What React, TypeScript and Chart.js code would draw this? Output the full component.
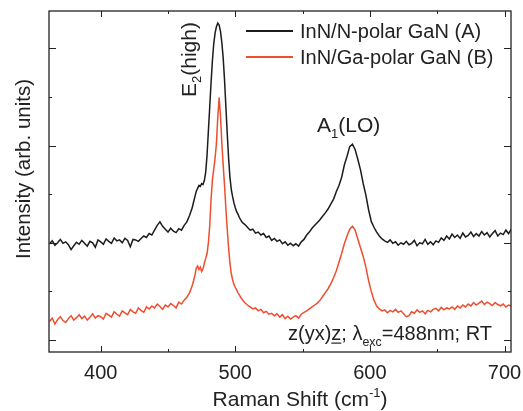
import { useEffect, useRef } from "react";
import { Chart, registerables } from "chart.js";

Chart.register(...registerables);

// Raman shift (cm^-1)
const ramanShift = [
  362, 364, 366, 368, 370, 372, 374, 376, 378, 380,
  382, 384, 386, 388, 390, 392, 394, 396, 398, 400,
  402, 404, 406, 408, 410, 412, 414, 416, 418, 420,
  422, 424, 426, 428, 430, 432, 434, 436, 438, 440,
  442, 444, 446, 448, 450, 452, 454, 456, 458, 460,
  462, 464, 466, 468,
  469, 470, 471, 472, 473, 474, 475, 476, 477, 478,
  479, 480, 481, 482, 483, 484, 485, 486, 487, 488,
  489, 490, 491, 492, 493, 494, 495, 496, 497, 498,
  499, 500, 501, 502, 503, 504, 505, 506, 507,
  509, 511, 513, 515, 517, 519, 521, 523, 525, 527,
  529, 531, 533, 535, 537, 539, 541, 543, 545, 547,
  549, 551, 553, 555, 557, 559, 561, 563, 565, 567,
  569, 571, 573, 575, 577, 579, 581, 583, 585, 587,
  589, 591, 593, 595, 597, 599, 601, 603, 605, 607,
  609, 611, 613, 615, 617, 619, 621, 623, 625, 627,
  629, 631, 633, 635, 637, 639, 641, 643, 645, 647,
  649, 651, 653, 655, 657, 659, 661, 663, 665, 667,
  669, 671, 673, 675, 677, 679, 681, 683, 685, 687,
  689, 691, 693, 695, 697, 699, 701, 703, 705,
];

// InN/N-polar GaN (A)
const intensityA = [
  198, 204, 195, 200, 207, 199, 202, 196, 186, 194,
  201, 197, 205, 199, 193, 203, 200, 191, 206, 202,
  197, 208, 203, 199, 210, 204, 206, 200, 209, 205,
  192, 207, 206, 203, 209, 214, 211, 219, 216, 226,
  236, 243, 234, 228, 222, 230, 224, 221, 229, 226,
  236, 243, 256, 272,
  284, 295, 306, 312, 318, 316, 322, 320, 328, 345,
  380, 430, 480, 530, 575, 610, 632, 645, 652, 648,
  635, 612, 580, 535, 480, 425, 375, 335, 310, 295,
  282, 272, 264, 259, 252, 247, 243, 240, 238,
  232, 226, 228, 220, 222, 216, 219, 211, 214, 205,
  209, 203, 206, 198, 202, 195, 199, 194, 198, 193,
  202, 207, 216, 222, 230, 236, 242, 248, 255, 262,
  270, 280, 290, 305, 318, 335, 360, 378, 398, 403,
  392, 372, 350, 322, 298, 268, 244, 232, 222, 214,
  208, 204, 201, 206, 199, 202, 195, 200, 197, 203,
  196, 199, 205, 194, 200, 198, 207, 197, 202, 196,
  204, 201, 210, 205, 214, 208, 218, 211, 216, 209,
  220, 212, 215, 222, 213, 219, 214, 223, 216, 221,
  212, 219, 225, 214, 220, 217, 226, 219, 228,
];

// InN/Ga-polar GaN (B)
const intensityB = [
  38, 45, 33, 42, 48, 40, 36, 44, 50, 41,
  46, 52, 44, 49, 41, 47, 54, 45, 50, 48,
  43, 55, 51, 47, 58, 53, 49, 60, 56, 52,
  63, 58, 55, 66, 61, 57, 68, 64, 70, 66,
  74, 69, 63, 72, 68, 75, 71, 66, 78, 74,
  82, 88, 97, 112,
  122, 133, 148, 152, 145, 150, 141, 146, 158, 168,
  178, 200, 235, 290, 330, 352, 375, 405, 460, 499,
  460, 405, 360, 318, 270, 228, 190, 158, 137, 124,
  114, 108, 103, 97, 93, 88, 84, 80, 77,
  72, 68, 64, 66, 60, 63, 56, 59, 53, 55,
  50, 54, 47, 52, 44, 49, 43, 47, 50, 45,
  53, 57, 60, 64, 68, 72, 76, 82, 90, 98,
  106, 116, 128, 142, 160, 178, 198, 214, 228, 234,
  226, 208, 190, 172, 150, 122, 100, 82, 70, 64,
  60, 62, 56, 61, 58, 63, 57, 60, 54, 48,
  50, 58, 55, 62, 57, 60, 54, 61, 58, 63,
  65, 60, 67, 62, 66, 64, 68, 63, 70, 66,
  72, 68, 74, 70, 77, 72, 76, 80, 73, 78,
  75, 71, 77, 73, 70, 74, 68, 72, 70,
];

const xTickLabels = [400, 500, 600, 700];
const seriesLabels = ["InN/N-polar GaN (A)", "InN/Ga-polar GaN (B)"];
const seriesColors = ["#1c1c1c", "#ee4e2e"];

const FONT = "'Liberation Sans', Arial, Helvetica, sans-serif";
const TEXT = "#222222";

type Part = { t: string; sub?: boolean; sup?: boolean; u?: boolean };

function drawRich(
  ctx: CanvasRenderingContext2D,
  parts: Part[],
  x: number,
  y: number,
  size: number,
  align: "left" | "center",
  rotate = false
) {
  ctx.save();
  ctx.translate(x, y);
  if (rotate) ctx.rotate(-Math.PI / 2);
  ctx.fillStyle = TEXT;
  ctx.textBaseline = "alphabetic";
  ctx.textAlign = "left";
  let w = 0;
  for (const p of parts) {
    const fs = p.sub || p.sup ? size * 0.62 : size;
    ctx.font = `${fs}px ${FONT}`;
    w += ctx.measureText(p.t).width;
  }
  let cx = align === "center" ? -w / 2 : 0;
  for (const p of parts) {
    const fs = p.sub || p.sup ? size * 0.62 : size;
    ctx.font = `${fs}px ${FONT}`;
    const dy = p.sub ? size * 0.28 : p.sup ? -size * 0.45 : 0;
    ctx.fillText(p.t, cx, dy);
    const pw = ctx.measureText(p.t).width;
    if (p.u) ctx.fillRect(cx, dy + 2.5, pw, 1.2);
    cx += pw;
  }
  ctx.restore();
}

const decorPlugin = {
  id: "decor",
  afterDatasetsDraw(chart: any) {
    const { ctx, chartArea: a, scales } = chart;
    const x = scales.x;
    const y = scales.y;
    ctx.save();
    ctx.strokeStyle = "#222222";
    ctx.lineWidth = 1.3;
    ctx.strokeRect(a.left, a.top, a.right - a.left, a.bottom - a.top);
    ctx.lineWidth = 1;
    ctx.beginPath();
    for (let v = 400; v <= 700; v += 50) {
      const px = Math.round(x.getPixelForValue(v)) + 0.5;
      const len = v % 100 === 0 ? 6 : 3;
      ctx.moveTo(px, a.bottom);
      ctx.lineTo(px, a.bottom - len);
      ctx.moveTo(px, a.top);
      ctx.lineTo(px, a.top + len);
    }
    for (let v = 0; v <= 600; v += 100) {
      const py = Math.round(y.getPixelForValue(v)) + 0.5;
      const len = v % 200 === 0 ? 7 : 3;
      ctx.moveTo(a.left, py);
      ctx.lineTo(a.left + len, py);
      ctx.moveTo(a.right, py);
      ctx.lineTo(a.right - len, py);
    }
    ctx.stroke();

    // legend
    const legendY = [31, 57];
    seriesLabels.forEach((label, i) => {
      ctx.strokeStyle = seriesColors[i];
      ctx.lineWidth = 1.8;
      ctx.beginPath();
      ctx.moveTo(246, legendY[i]);
      ctx.lineTo(293, legendY[i]);
      ctx.stroke();
      drawRich(ctx, [{ t: label }], 300, legendY[i] + 6.8, 20, "left");
    });

    // annotations
    drawRich(ctx, [{ t: "E" }, { t: "2", sub: true }, { t: "(high)" }], 195.5, 97, 21, "left", true);
    drawRich(ctx, [{ t: "A" }, { t: "1", sub: true }, { t: "(LO)" }], 317, 132, 21, "left");
    drawRich(
      ctx,
      [
        { t: "z(yx)" },
        { t: "z", u: true },
        { t: "; λ" },
        { t: "exc", sub: true },
        { t: "=488nm; RT" },
      ],
      288,
      340,
      20,
      "left"
    );

    // axis titles
    drawRich(ctx, [{ t: "Intensity (arb. units)" }], 29.5, 169, 20.5, "center", true);
    drawRich(
      ctx,
      [{ t: "Raman Shift (cm" }, { t: "-1", sup: true }, { t: ")" }],
      300,
      406,
      21,
      "center"
    );
    ctx.restore();
  },
};

export default function App() {
  const ref = useRef<HTMLCanvasElement>(null);
  useEffect(() => {
    if (!ref.current) return;
    const chart = new Chart(ref.current, {
      type: "line",
      data: {
        datasets: [
          {
            label: seriesLabels[0],
            data: ramanShift.map((v, i) => ({ x: v, y: intensityA[i] })),
            borderColor: seriesColors[0],
            borderWidth: 1.5,
            pointRadius: 0,
            tension: 0,
          },
          {
            label: seriesLabels[1],
            data: ramanShift.map((v, i) => ({ x: v, y: intensityB[i] })),
            borderColor: seriesColors[1],
            borderWidth: 1.5,
            pointRadius: 0,
            tension: 0,
          },
        ],
      },
      options: {
        responsive: false,
        animation: false,
        devicePixelRatio: 1,
        layout: { padding: { top: 11, right: 12, left: 0, bottom: 0 } },
        plugins: { legend: { display: false }, tooltip: { enabled: false } },
        scales: {
          x: {
            type: "linear",
            min: 361.6,
            max: 704.8,
            afterBuildTicks: (s: any) => {
              s.ticks = xTickLabels.map((v) => ({ value: v }));
            },
            ticks: {
              font: { family: FONT, size: 20 },
              color: TEXT,
              padding: 9,
              autoSkip: false,
              maxRotation: 0,
            },
            grid: { display: false, drawTicks: false },
            border: { display: false },
            afterFit: (s: any) => {
              s.height = 59;
              s.paddingLeft = 0;
              s.paddingRight = 0;
            },
          },
          y: {
            type: "linear",
            min: -24.7,
            max: 677,
            ticks: { display: false },
            grid: { display: false, drawTicks: false },
            border: { display: false },
            afterFit: (s: any) => {
              s.width = 49;
              s.paddingTop = 0;
              s.paddingBottom = 0;
            },
          },
        },
      },
      plugins: [decorPlugin],
    });
    return () => chart.destroy();
  }, []);
  return (
    <div style={{ position: "fixed", left: 0, top: 0, width: 523, height: 411, background: "#fff" }}>
      <canvas ref={ref} width={523} height={411} />
    </div>
  );
}
